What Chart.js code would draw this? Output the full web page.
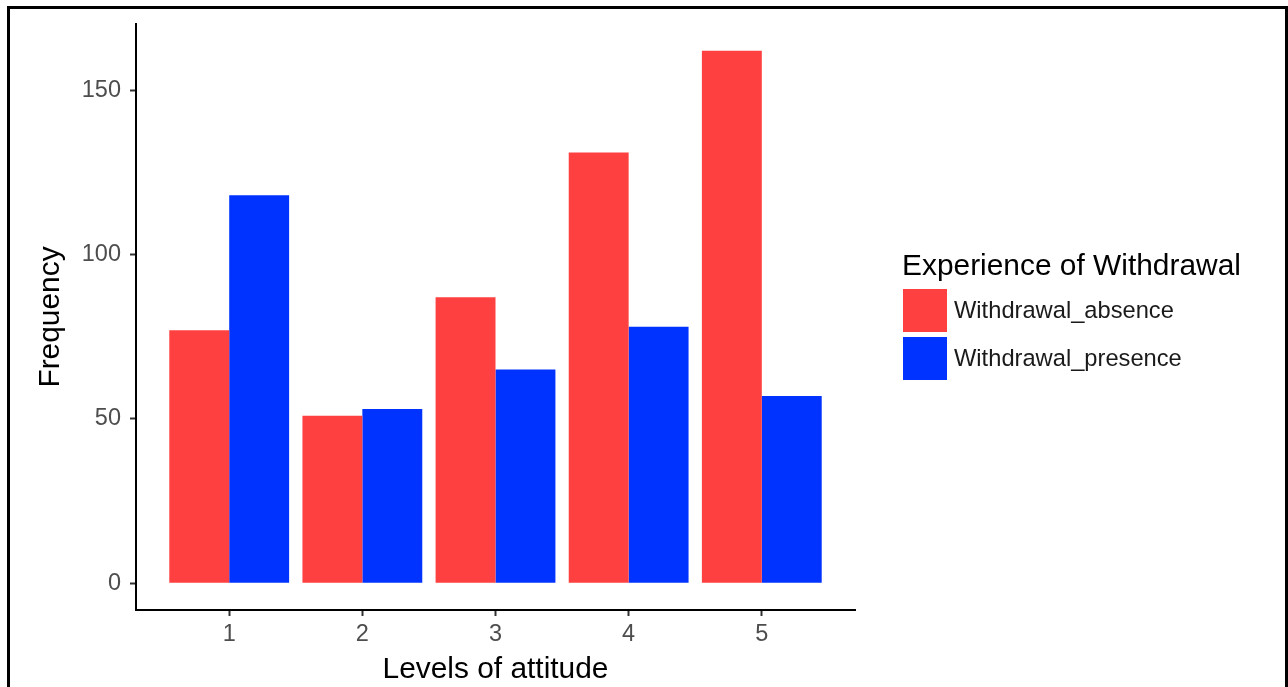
<!DOCTYPE html>
<html>
<head>
<meta charset="utf-8">
<script src="https://cdn.jsdelivr.net/npm/chart.js@4/dist/chart.umd.min.js"></script>
<style>
  html, body { margin: 0; padding: 0; background: #fff; overflow: hidden; }
  #wrap { position: relative; width: 1288px; height: 687px; }
  #frame { position: absolute; left: 7px; top: 6px; width: 1275px; height: 700px;
           border: 3px solid #000; border-bottom: none; box-sizing: content-box; pointer-events: none; }
  canvas { position: absolute; left: 0; top: 0; }
</style>
</head>
<body>
<div id="wrap">
  <canvas id="c" width="1288" height="687"></canvas>
  <div id="frame"></div>
</div>
<script>
const categories = [1, 2, 3, 4, 5];
const withdrawalAbsence = [77, 51, 87, 131, 162];
const withdrawalPresence = [118, 53, 65, 78, 57];
const yTickValues = [0, 50, 100, 150];
const seriesLabels = ['Withdrawal_absence', 'Withdrawal_presence'];
const seriesColors = ['#FF4040', '#0033FF'];
const legendTitle = 'Experience of Withdrawal';
const xTitle = 'Levels of attitude';
const yTitle = 'Frequency';

const FONT = '"Liberation Sans", Arial, Helvetica, sans-serif';

const legendPlugin = {
  id: 'ggLegend',
  afterDraw(chart) {
    const ctx = chart.ctx;
    ctx.save();
    ctx.fillStyle = '#000';
    ctx.font = '29.9px ' + FONT;
    ctx.textBaseline = 'alphabetic';
    ctx.textAlign = 'left';
    ctx.fillText(legendTitle, 902, 275);
    chart.data.datasets.forEach((ds, i) => {
      const y = 289 + i * 48;
      ctx.fillStyle = ds.backgroundColor;
      ctx.fillRect(903, y, 44, 43);
      ctx.fillStyle = '#1a1a1a';
      ctx.font = '23.7px ' + FONT;
      ctx.textBaseline = 'middle';
      ctx.fillText(ds.label, 954, y + 22);
    });
    ctx.restore();
  }
};

const makeData = (vals) => categories.map((c, i) => ({ x: c, y: vals[i] }));

new Chart(document.getElementById('c'), {
  type: 'bar',
  data: {
    datasets: [
      { label: seriesLabels[0], data: makeData(withdrawalAbsence), backgroundColor: seriesColors[0],
        borderWidth: 0, categoryPercentage: 0.9, barPercentage: 1.0 },
      { label: seriesLabels[1], data: makeData(withdrawalPresence), backgroundColor: seriesColors[1],
        borderWidth: 0, categoryPercentage: 0.9, barPercentage: 1.0 }
    ]
  },
  options: {
    responsive: false,
    animation: false,
    devicePixelRatio: 1,
    layout: { padding: { left: 0, right: 433, top: 24, bottom: 0 } },
    plugins: { legend: { display: false }, tooltip: { enabled: false } },
    scales: {
      x: {
        type: 'linear',
        min: 0.3, max: 5.7,
        offset: false,
        afterBuildTicks: s => { s.ticks = categories.map(v => ({ value: v })); },
        afterFit: s => { s.height = 77; },
        ticks: { font: { family: FONT, size: 23.5 }, color: '#4d4d4d', padding: 4, maxRotation: 0 },
        grid: { offset: false, drawOnChartArea: false, drawTicks: true, tickLength: 6, tickColor: '#333', tickWidth: 2 },
        border: { display: true, color: '#000', width: 2 },
        title: { display: true, text: xTitle, color: '#000', font: { family: FONT, size: 29.9 },
                 padding: { top: 0, bottom: -1 } }
      },
      y: {
        min: -8.1, max: 170.1,
        afterBuildTicks: s => { s.ticks = yTickValues.map(v => ({ value: v })); },
        afterFit: s => { s.width = 136; },
        ticks: { font: { family: FONT, size: 23.5 }, color: '#4d4d4d', padding: 9 },
        grid: { offset: false, drawOnChartArea: false, drawTicks: true, tickLength: 6, tickColor: '#333', tickWidth: 2 },
        border: { display: true, color: '#000', width: 2 },
        title: { display: true, text: yTitle, color: '#000', font: { family: FONT, size: 29.9 },
                 padding: { top: 33, bottom: 0 } }
      }
    }
  },
  plugins: [legendPlugin]
});
</script>
</body>
</html>
